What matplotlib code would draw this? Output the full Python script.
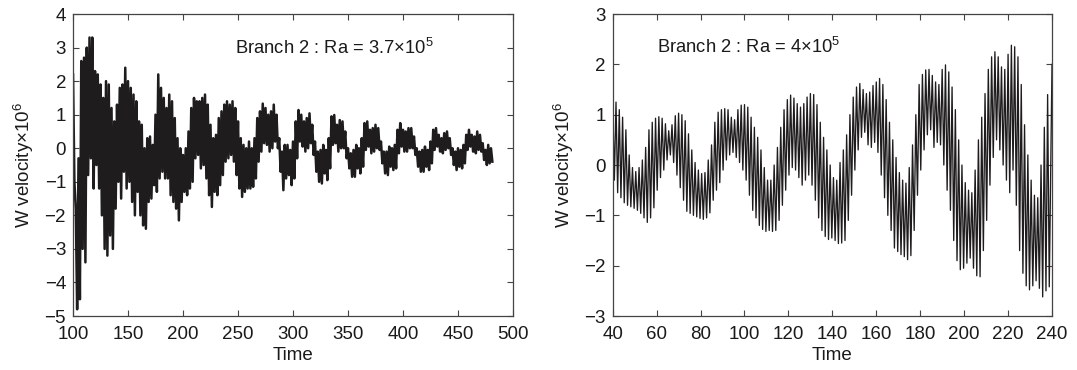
import numpy as np
import matplotlib
matplotlib.use("Agg")
import matplotlib.pyplot as plt

plt.rcParams['font.family'] = ['Liberation Sans', 'DejaVu Sans']
plt.rcParams['mathtext.fontset'] = 'custom'
plt.rcParams['mathtext.rm'] = 'Liberation Sans'

# left panel, Ra = 3.7e5 : band read every 2.5 time units from t=100 to t=480
left_t0 = 100.0
left_step = 2.5
left_upper = [
    2.2, -1.8, -0.3, 2.6, 2.7, 3.0, 3.3, 3.3,
    2.3, 2.2, 1.9, 1.5, 2.0, 1.9, 1.2, 0.8,
    1.3, 1.8, 1.9, 2.4, 2.0, 1.8, 1.6, 1.4,
    0.8, 0.7, 0.0, 0.3, 0.35, 0.1, 1.0, 2.2,
    1.8, 1.5, 1.2, 1.6, 1.4, 0.9, 0.3, 0.0,
    -0.2, 0.0, 0.5, 1.2, 1.5, 1.4, 1.4, 1.5,
    1.6, 1.3, 0.7, 0.3, 0.4, 0.9, 1.1, 1.3,
    1.4, 1.3, 1.4, 1.2, 0.8, 0.3, 0.1, 0.0,
    0.2, 0.0, 0.3, 0.9, 1.1, 1.33, 1.2, 1.0,
    1.1, 1.3, 1.0, 0.3, -0.1, 0.1, 0.1, -0.05,
    0.2, 0.8, 1.14, 1.0, 0.8, 0.9, 1.04, 0.7,
    0.2, -0.1, -0.05, 0.1, -0.05, 0.3, 0.95, 0.99,
    0.7, 0.84, 0.8, 0.5, 0.0, -0.15, -0.05, 0.1,
    0.0, 0.3, 0.75, 0.8, 0.55, 0.6, 0.7, 0.6,
    0.2, -0.1, -0.1, 0.05, 0.0, 0.1, 0.55, 0.75,
    0.55, 0.5, 0.6, 0.6, 0.35, 0.0, -0.1, -0.05,
    0.05, -0.05, 0.2, 0.55, 0.6, 0.4, 0.3, 0.45,
    0.5, 0.3, 0.0, -0.1, 0.0, -0.05, 0.1, 0.4,
    0.55, 0.4, 0.35, 0.5, 0.4, 0.15, -0.05, 0.1,
    0.0,
]
left_lower = [
    -1.0, -4.8, -4.5, -3.0, -3.4, -0.8, -0.3, -1.2,
    -0.5, -1.2, -2.0, -3.0, -3.2, -2.6, -3.0, -1.8,
    -1.0, -1.5, -0.7, -1.2, -1.0, -1.6, -2.0, -1.3,
    -2.0, -2.3, -2.4, -1.6, -1.5, -1.1, -1.3, -0.9,
    -0.7, -0.9, -0.9, -1.4, -1.6, -1.8, -2.15, -1.6,
    -1.3, -1.4, -1.2, -1.0, -0.3, -0.2, -0.6, -0.5,
    -0.9, -1.4, -1.75, -1.3, -1.4, -1.1, -0.8, -0.4,
    -0.3, -0.2, -0.4, -0.8, -1.2, -1.45, -1.3, -1.2,
    -1.2, -1.15, -0.9, -0.4, -0.1, 0.15, 0.1, -0.1,
    0.0, 0.2, 0.0, -0.7, -1.25, -0.9, -0.8, -1.1,
    -0.9, -0.3, 0.2, 0.05, -0.1, 0.0, 0.15, -0.2,
    -0.7, -1.0, -1.05, -0.75, -0.95, -0.6, 0.1, 0.15,
    -0.1, 0.0, 0.0, -0.3, -0.6, -0.85, -0.85, -0.6,
    -0.75, -0.55, -0.05, 0.05, -0.15, -0.1, 0.0, -0.05,
    -0.45, -0.75, -0.8, -0.55, -0.65, -0.6, -0.15, 0.05,
    -0.1, -0.1, 0.0, 0.0, -0.2, -0.55, -0.7, -0.7,
    -0.55, -0.65, -0.45, -0.05, 0.05, -0.1, -0.15, -0.05,
    0.0, -0.2, -0.5, -0.65, -0.55, -0.6, -0.45, -0.05,
    0.05, -0.1, -0.15, -0.05, -0.1, -0.35, -0.5, -0.45,
    -0.4,
]

# right panel, Ra = 4e5 : one peak and one trough per fast cycle (period ~1.5)
right_t0 = 40.0
right_step = 1.5
right_peaks = [
    1.26, 1.25, 1.1, 0.95, 0.7, 0.2, -0.05, -0.13, -0.05, 0.1,
    0.35, 0.7, 0.85, 0.93, 0.96, 0.93, 0.82, 0.68, 0.8, 0.98,
    1.03, 1.0, 0.88, 0.62, 0.3, 0.05, -0.1, -0.17, -0.15, 0.1,
    0.4, 0.85, 1.05, 1.1, 1.12, 1.1, 0.95, 0.9, 1.1, 1.19,
    1.2, 1.15, 0.95, 0.75, 0.55, 0.3, -0.05, -0.3, -0.3, 0.0,
    0.35, 0.75, 1.1, 1.3, 1.39, 1.33, 1.22, 1.15, 1.22, 1.35,
    1.42, 1.4, 1.2, 0.85, 0.55, 0.3, 0.0, -0.25, -0.3, 0.05,
    0.3, 0.6, 1.0, 1.35, 1.55, 1.62, 1.5, 1.42, 1.45, 1.58,
    1.65, 1.72, 1.6, 1.3, 0.85, 0.5, 0.15, -0.15, -0.3, -0.36,
    -0.05, 0.4, 1.0, 1.6, 1.8, 1.89, 1.9, 1.78, 1.65, 1.6,
    1.9, 1.99, 1.85, 1.55, 1.1, 0.5, 0.0, -0.35, -0.5, -0.55,
    -0.1, 0.5, 0.95, 1.42, 1.9, 2.15, 2.25, 2.15, 1.95, 1.9,
    2.2, 2.38, 2.35, 2.15, 1.6, 0.8, 0.2, -0.3, -0.6, -0.65,
    0.0, 0.75, 1.4,
]
right_troughs = [
    -0.3, -0.55, -0.65, -0.75, -0.8, -0.83, -0.86, -0.9, -0.96, -1.05,
    -1.14, -1.05, -0.85, -0.5, -0.25, -0.1, 0.1, 0.2, 0.05, -0.2,
    -0.45, -0.7, -0.92, -0.96, -1.0, -1.03, -1.06, -1.08, -1.05, -0.95,
    -0.7, -0.5, -0.35, -0.1, 0.1, 0.2, 0.25, 0.15, 0.05, -0.1,
    -0.3, -0.6, -0.9, -1.05, -1.2, -1.28, -1.32, -1.3, -1.32, -1.3,
    -1.1, -0.8, -0.5, -0.2, -0.05, -0.1, -0.25, -0.4, -0.3, -0.2,
    -0.4, -0.7, -1.05, -1.3, -1.42, -1.48, -1.45, -1.5, -1.56, -1.55,
    -1.5, -1.1, -0.6, -0.1, 0.3, 0.55, 0.65, 0.4, 0.35, 0.45,
    0.25, -0.2, -0.65, -1.0, -1.3, -1.65, -1.72, -1.78, -1.82, -1.88,
    -1.8, -1.3, -0.6, -0.1, 0.3, 0.6, 0.7, 0.35, 0.45, 0.4,
    0.0, -0.5, -0.9, -1.5, -1.9, -2.08, -2.05, -1.95, -1.85, -2.05,
    -2.2, -2.22, -1.7, -1.1, -0.4, 0.15, 0.5, 0.3, 0.0, -0.3,
    -0.55, -0.1, -0.8, -1.7, -2.15, -2.4, -2.48, -2.4, -2.3, -2.45,
    -2.62, -2.5, -2.42,
]
right_end = (240.0, 2.0)


def zigzag(t0, step, upper, lower):
    # alternate peak / trough, half a step apart
    n = min(len(upper), len(lower))
    y = np.empty(2 * n)
    y[0::2] = upper[:n]
    y[1::2] = lower[:n]
    t = t0 + 0.5 * step * np.arange(2 * n)
    return t, y


line_col = '#1e1c1c'
spine_col = '#444444'
text_col = '#1a1a1a'

fig = plt.figure(figsize=(10.77, 3.70), dpi=100)
ax1 = fig.add_axes([0.0678, 0.1459, 0.4085, 0.8162])
ax2 = fig.add_axes([0.5689, 0.1459, 0.4079, 0.8162])

t, y = zigzag(left_t0, left_step, left_upper, left_lower)
ax1.plot(t, y, color=line_col, lw=1.8)

t, y = zigzag(right_t0, right_step, right_peaks, right_troughs)
t = np.append(t, right_end[0])
y = np.append(y, right_end[1])
ax2.plot(t, y, color=line_col, lw=0.95)

ax1.set_xlim(100, 500)
ax1.set_ylim(-5, 4)
ax1.set_xticks(np.arange(100, 501, 50))
ax1.set_yticks(np.arange(-5, 5, 1))
ax1.text(247, 3.0, 'Branch 2 : Ra = 3.7$\\times$10$^5$', fontsize=13.2, va='center', color=text_col)

ax2.set_xlim(40, 240)
ax2.set_ylim(-3, 3)
ax2.set_xticks(np.arange(40, 241, 20))
ax2.set_yticks(np.arange(-3, 4, 1))
ax2.text(60.0, 2.35, 'Branch 2 : Ra = 4$\\times$10$^5$', fontsize=13.2, va='center', color=text_col)

for ax in (ax1, ax2):
    ax.set_xlabel('Time', fontsize=13.5, labelpad=3, color=text_col)
    ax.set_ylabel('W velocity$\\times$10$^6$', fontsize=13.5, labelpad=6, color=text_col)
    ax.tick_params(direction='in', top=True, right=True, length=4, width=0.8,
                   labelsize=13.5, colors=spine_col, labelcolor=text_col)
    ax.tick_params(axis='x', pad=7)
    ax.tick_params(axis='y', pad=5)
    for s in ax.spines.values():
        s.set_color(spine_col)
        s.set_linewidth(0.9)

fig.savefig('out.png', dpi=100)
